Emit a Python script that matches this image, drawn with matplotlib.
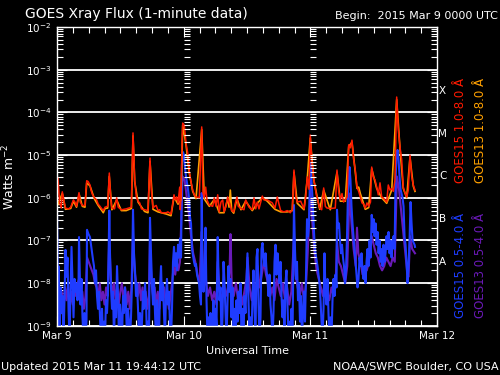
import numpy as np
import matplotlib
matplotlib.use("Agg")
import matplotlib.pyplot as plt
import matplotlib.transforms as mtransforms
from matplotlib.ticker import FixedLocator, LogFormatterSciNotation, NullFormatter

# (hours since 2015 Mar 9 00:00 UTC, log10 flux in W m^-2)
goes15_long = [
    (0.0, -6.1), (0.1, -5.8), (0.19, -5.54), (0.5, -6.12), (0.8, -6.24), (1.0, -5.86), (1.3, -6.05),
    (1.6, -6.24), (2.2, -6.26), (2.6, -6.22), (3.1, -6.05), (3.4, -6.1), (3.7, -6.2), (4.17, -5.88),
    (4.4, -6.1), (4.8, -6.18), (5.3, -6.18), (5.63, -5.6), (5.9, -5.62), (6.25, -5.7), (6.44, -5.82),
    (6.7, -5.92), (7.1, -6.0), (7.5, -6.05), (7.8, -6.15), (8.15, -6.2), (8.5, -6.26), (8.77, -6.3),
    (9.1, -6.22), (9.6, -6.2), (9.91, -5.42), (10.2, -6.05), (10.4, -6.24), (10.9, -6.26), (11.31, -6.0),
    (11.6, -6.22), (12.2, -6.28), (13.1, -6.26), (14.08, -6.22), (14.4, -4.48), (14.72, -5.58),
    (15.03, -5.98), (15.35, -6.08), (15.67, -6.12), (16.0, -6.26), (16.6, -6.28), (17.24, -6.3),
    (17.62, -5.07), (17.87, -5.82), (18.19, -6.24), (18.5, -6.2), (18.8, -6.18), (19.14, -6.3),
    (19.46, -6.28), (19.76, -6.35), (20.7, -6.35), (21.0, -6.33), (21.6, -6.38), (22.17, -5.93),
    (22.41, -6.05), (22.68, -5.98), (22.93, -6.12), (23.25, -5.75), (23.36, -6.28), (23.49, -6.0),
    (23.7, -4.65), (23.82, -4.25), (24.12, -4.3), (24.44, -4.72), (24.76, -4.95), (25.07, -5.39),
    (25.39, -5.63), (25.71, -5.82), (26.01, -5.93), (26.34, -5.98), (26.96, -6.0), (27.42, -4.34),
    (27.66, -5.89), (27.91, -6.0), (28.17, -5.75), (28.42, -6.05), (28.86, -6.17), (29.5, -6.2),
    (29.8, -6.0), (30.13, -6.2), (30.45, -5.93), (30.75, -6.33), (31.07, -6.1), (31.4, -6.05),
    (31.64, -6.33), (32.02, -6.2), (32.34, -5.98), (32.84, -6.2), (33.1, -6.3), (33.48, -6.33),
    (33.73, -6.15), (34.1, -5.98), (34.35, -6.2), (34.86, -6.25), (35.43, -6.28), (35.75, -6.05),
    (36.38, -6.22), (37.0, -6.28), (37.33, -6.0), (37.65, -6.26), (37.95, -6.1), (38.27, -6.26),
    (38.9, -5.96), (39.22, -6.05), (39.85, -6.05), (40.5, -6.1), (40.79, -6.12), (41.3, -6.24),
    (41.74, -5.98), (42.06, -6.15), (42.38, -6.3), (43.01, -6.33), (43.63, -6.3), (44.2, -6.35),
    (44.58, -6.28), (44.9, -5.35), (45.23, -5.98), (45.53, -6.1), (46.17, -6.08), (46.8, -6.26),
    (47.12, -6.0), (47.42, -5.51), (47.75, -5.8), (47.99, -4.53), (48.31, -5.18), (48.64, -5.54),
    (49.13, -5.93), (49.77, -6.24), (50.15, -6.28), (50.53, -5.77), (50.84, -6.2), (51.16, -6.24),
    (51.78, -6.25), (52.73, -6.24), (53.05, -5.35), (53.37, -5.85), (53.68, -6.05), (54.0, -5.9),
    (54.3, -6.1), (54.62, -6.05), (54.95, -5.98), (55.27, -4.76), (55.57, -4.83), (55.89, -4.65),
    (56.21, -5.11), (56.52, -5.35), (56.84, -5.75), (57.16, -5.85), (57.47, -5.98), (57.79, -6.12),
    (58.1, -6.15), (58.41, -6.24), (58.74, -6.12), (59.06, -6.2), (59.4, -6.1), (59.63, -5.28),
    (59.93, -5.51), (60.25, -5.58), (60.57, -5.75), (60.88, -5.93), (61.2, -5.65), (61.52, -5.98),
    (61.82, -6.0), (62.47, -6.1), (62.77, -5.7), (63.09, -5.82), (63.42, -5.78), (63.72, -5.85),
    (64.04, -5.58), (64.36, -3.64), (64.67, -4.41), (64.99, -4.81), (65.31, -5.11), (65.61, -5.75),
    (65.94, -5.89), (66.26, -5.98), (66.56, -5.82), (66.88, -5.0), (67.21, -5.51), (67.51, -5.7),
    (67.83, -5.82),
]

goes13_long = [
    (0.0, -6.2), (1.0, -5.9), (1.6, -6.27), (2.6, -6.25), (3.1, -6.08), (3.7, -6.22), (4.2, -5.92),
    (4.8, -6.2), (5.3, -6.22), (5.63, -5.65), (6.25, -5.72), (7.1, -6.03), (7.8, -6.18), (8.5, -6.3),
    (8.77, -6.35), (9.1, -6.25), (9.6, -6.24), (9.9, -5.5), (10.4, -6.28), (11.3, -6.05), (12.2, -6.3),
    (13.1, -6.3), (14.1, -6.25), (14.4, -4.55), (14.72, -5.62), (15.35, -6.1), (16.6, -6.32),
    (17.24, -6.35), (17.62, -5.15), (18.19, -6.27), (19.14, -6.33), (20.7, -6.38), (21.6, -6.42),
    (22.17, -5.98), (22.93, -6.15), (23.49, -6.05), (23.82, -4.3), (24.44, -4.75), (25.07, -5.42),
    (25.71, -5.85), (26.34, -6.02), (27.42, -4.4), (27.91, -6.03), (28.86, -6.2), (29.8, -6.04),
    (30.75, -6.35), (31.64, -6.35), (32.34, -6.02), (32.6, -6.22), (32.84, -5.82), (33.1, -6.3),
    (33.48, -6.36), (34.1, -6.02), (34.86, -6.28), (35.75, -6.08), (37.0, -6.3), (37.95, -6.13),
    (38.9, -6.0), (39.85, -6.08), (41.3, -6.27), (42.38, -6.33), (43.63, -6.33), (44.58, -6.3),
    (44.9, -5.4), (45.53, -6.13), (46.8, -6.28), (47.42, -5.55), (47.99, -4.6), (48.64, -5.58),
    (49.77, -6.27), (50.53, -5.82), (51.78, -6.28), (53.05, -5.4), (53.68, -6.08), (54.62, -6.08),
    (55.27, -4.8), (55.89, -4.7), (56.52, -5.4), (56.84, -5.78), (57.16, -5.75), (57.47, -5.9),
    (57.79, -6.02), (58.41, -6.27), (59.06, -6.23), (59.63, -5.32), (60.57, -5.78), (61.52, -6.0),
    (62.47, -6.13), (63.42, -5.82), (64.36, -3.7), (64.99, -4.85), (65.61, -5.78), (66.26, -6.0),
    (66.88, -5.05), (67.51, -5.73), (67.83, -5.85),
]

goes15_short = [
    (0.0, -6.33), (0.1, -7.2), (0.19, -8.5), (0.28, -7.6), (0.47, -9.3), (0.66, -8.1), (0.85, -8.7),
    (1.04, -8.3), (1.23, -9.3), (1.42, -8.4), (1.61, -7.22), (1.8, -7.85), (1.99, -7.4), (2.18, -8.6),
    (2.37, -9.3), (2.56, -8.2), (2.75, -7.15), (2.94, -8.0), (3.13, -8.8), (3.32, -7.9), (3.5, -8.2),
    (3.69, -8.0), (3.88, -8.4), (4.07, -8.1), (4.17, -6.92), (4.32, -7.8), (4.45, -8.5), (4.64, -7.9),
    (4.83, -8.8), (5.02, -9.3), (5.21, -8.7), (5.4, -9.3), (5.59, -8.9), (5.68, -6.75), (5.97, -6.85),
    (6.25, -6.92), (6.44, -7.1), (6.63, -7.3), (6.82, -7.45), (7.01, -7.6), (7.2, -8.0), (7.39, -7.7),
    (7.58, -8.3), (7.77, -8.6), (7.96, -8.2), (8.15, -8.8), (8.34, -9.3), (8.53, -8.6), (8.72, -9.3),
    (8.91, -8.9), (9.09, -9.3), (9.28, -8.4), (9.47, -8.7), (9.66, -8.2), (9.91, -6.3), (10.04, -7.3),
    (10.23, -8.1), (10.42, -8.6), (10.61, -8.2), (10.8, -9.3), (10.99, -8.4), (11.18, -8.8),
    (11.37, -7.6), (11.56, -8.3), (11.75, -9.3), (11.94, -8.5), (12.13, -8.9), (12.32, -9.3),
    (12.51, -8.3), (12.69, -8.7), (12.88, -8.1), (13.07, -8.5), (13.26, -9.3), (13.45, -8.6),
    (13.64, -8.9), (13.83, -9.3), (14.02, -8.8), (14.21, -8.0), (14.4, -6.28), (14.59, -7.3),
    (14.78, -7.7), (14.97, -8.3), (15.16, -8.0), (15.35, -8.6), (15.54, -9.3), (15.73, -8.7),
    (15.92, -9.3), (16.11, -8.9), (16.29, -8.2), (16.48, -8.6), (16.67, -8.0), (16.86, -8.4),
    (17.05, -9.3), (17.24, -8.9), (17.43, -9.3), (17.62, -6.47), (17.81, -7.3), (18.0, -8.0),
    (18.19, -8.5), (18.38, -7.9), (18.57, -8.7), (18.76, -9.3), (18.95, -8.4), (19.14, -8.8),
    (19.33, -9.3), (19.52, -8.1), (19.71, -7.6), (19.89, -8.4), (20.08, -8.0), (20.27, -8.7),
    (20.46, -9.3), (20.65, -8.3), (20.84, -7.9), (21.03, -8.5), (21.22, -8.2), (21.41, -9.0),
    (21.6, -9.3), (21.79, -8.6), (21.98, -7.5), (22.17, -7.15), (22.36, -7.6), (22.55, -7.3),
    (22.74, -7.7), (22.93, -7.1), (23.12, -7.4), (23.31, -6.95), (23.5, -7.4), (23.68, -5.2),
    (23.87, -4.93), (24.06, -5.0), (24.25, -5.3), (24.44, -5.5), (24.63, -5.65), (24.82, -5.8),
    (25.01, -6.0), (25.2, -6.45), (25.39, -6.6), (25.58, -7.2), (25.77, -7.35), (25.96, -7.5),
    (26.15, -7.6), (26.34, -7.55), (26.53, -7.8), (26.72, -7.9), (26.91, -8.0), (27.09, -8.3),
    (27.28, -8.5), (27.42, -5.89), (27.57, -7.6), (27.76, -8.2), (27.95, -7.8), (28.14, -6.7),
    (28.33, -8.4), (28.52, -9.3), (28.71, -8.8), (28.9, -9.3), (29.08, -8.7), (29.27, -9.3),
    (29.46, -8.9), (29.65, -8.4), (29.84, -9.3), (30.03, -8.6), (30.22, -9.0), (30.45, -6.92),
    (30.6, -7.8), (30.79, -8.4), (30.98, -8.1), (31.17, -9.3), (31.36, -8.8), (31.55, -7.5),
    (31.74, -8.0), (31.93, -8.7), (32.12, -9.3), (32.3, -8.5), (32.49, -7.6), (32.68, -8.2),
    (32.87, -7.9), (33.06, -8.8), (33.25, -8.1), (33.44, -9.3), (33.63, -8.6), (33.82, -9.3),
    (34.01, -8.4), (34.2, -8.9), (34.39, -8.2), (34.58, -8.7), (34.77, -8.0), (34.96, -9.3),
    (35.15, -8.6), (35.34, -9.3), (35.52, -8.3), (35.71, -8.7), (35.9, -8.0), (36.09, -7.3),
    (36.28, -8.4), (36.47, -9.3), (36.66, -8.8), (36.85, -9.3), (37.04, -8.3), (37.23, -7.7),
    (37.42, -8.6), (37.61, -9.3), (37.8, -7.4), (37.99, -7.2), (38.18, -8.5), (38.37, -9.3),
    (38.56, -8.8), (38.75, -7.2), (38.94, -7.06), (39.13, -7.4), (39.32, -7.6), (39.51, -7.3),
    (39.7, -7.7), (39.88, -7.9), (40.07, -8.3), (40.26, -7.8), (40.45, -8.5), (40.64, -8.8),
    (40.83, -9.3), (41.02, -8.7), (41.21, -7.5), (41.4, -7.1), (41.59, -7.8), (41.78, -7.3),
    (41.97, -7.6), (42.16, -8.0), (42.35, -7.5), (42.54, -8.3), (42.73, -8.8), (42.92, -8.4),
    (43.1, -9.3), (43.29, -8.0), (43.48, -7.7), (43.67, -8.5), (43.86, -9.3), (44.05, -8.9),
    (44.24, -9.3), (44.43, -8.6), (44.62, -9.3), (44.9, -6.17), (45.09, -7.2), (45.28, -7.9),
    (45.47, -7.5), (45.66, -8.4), (45.85, -8.0), (46.04, -8.9), (46.23, -8.3), (46.42, -9.3),
    (46.61, -8.7), (46.8, -8.2), (46.99, -8.9), (47.18, -7.8), (47.37, -6.5), (47.56, -6.9),
    (47.75, -6.6), (47.99, -5.18), (48.22, -5.6), (48.41, -6.0), (48.6, -6.55), (48.79, -7.05),
    (48.98, -7.3), (49.17, -7.45), (49.36, -7.6), (49.55, -7.8), (49.74, -8.0), (49.93, -8.4),
    (50.12, -8.9), (50.31, -9.3), (50.5, -8.6), (50.68, -7.3), (50.87, -8.2), (51.06, -8.5),
    (51.25, -7.9), (51.44, -8.7), (51.63, -9.3), (51.82, -8.8), (52.01, -9.3), (52.2, -8.4),
    (52.39, -7.9), (52.58, -8.3), (52.77, -7.8), (52.96, -8.1), (53.05, -6.28), (53.24, -6.7),
    (53.43, -6.6), (53.62, -7.0), (53.81, -7.3), (54.0, -7.1), (54.19, -7.4), (54.38, -7.6),
    (54.57, -8.0), (54.76, -7.7), (54.95, -6.9), (55.13, -5.9), (55.42, -5.28), (55.61, -5.6),
    (55.8, -6.2), (55.99, -6.6), (56.18, -6.9), (56.37, -7.2), (56.56, -7.5), (56.75, -7.8),
    (56.94, -8.1), (57.13, -7.9), (57.32, -7.4), (57.51, -7.6), (57.7, -7.3), (57.89, -7.7),
    (58.08, -7.9), (58.27, -7.6), (58.46, -8.0), (58.65, -7.5), (58.84, -7.2), (59.03, -7.6),
    (59.22, -7.0), (59.41, -7.4), (59.63, -6.4), (59.79, -6.8), (59.98, -6.5), (60.17, -6.9),
    (60.36, -6.6), (60.55, -7.1), (60.74, -6.8), (60.93, -7.3), (61.12, -7.0), (61.31, -7.5),
    (61.5, -7.2), (61.68, -7.6), (61.87, -7.1), (62.06, -7.5), (62.25, -7.3), (62.44, -6.9),
    (62.63, -7.2), (62.82, -6.8), (63.01, -7.3), (63.2, -7.0), (63.39, -7.4), (63.58, -7.1),
    (63.77, -6.9), (63.96, -7.2), (64.15, -5.6), (64.33, -5.0), (64.52, -4.88), (64.71, -5.1),
    (64.9, -5.5), (65.09, -5.8), (65.28, -5.9), (65.47, -6.0), (65.66, -6.2), (65.85, -6.9),
    (66.04, -7.1), (66.23, -7.5), (66.42, -8.0), (66.61, -7.6), (66.8, -7.0), (66.99, -6.1),
    (67.18, -6.6), (67.37, -7.0), (67.56, -7.05), (67.75, -7.1), (67.83, -7.15),
]

goes13_short = [
    (0.0, -7.5), (0.3, -8.3), (0.6, -8.6), (0.9, -8.2), (1.2, -8.7), (1.5, -8.1), (1.8, -8.4),
    (2.1, -8.0), (2.4, -8.6), (2.7, -8.2), (3.0, -8.5), (3.3, -7.95), (3.6, -8.3), (3.9, -8.0),
    (4.2, -7.9), (4.5, -8.4), (4.8, -8.2), (5.1, -8.6), (5.4, -8.3), (5.7, -7.4), (6.0, -7.5),
    (6.3, -7.6), (6.6, -7.7), (6.9, -7.8), (7.2, -8.0), (7.5, -8.1), (7.8, -8.3), (8.1, -8.0),
    (8.4, -8.4), (8.7, -8.2), (9.0, -8.5), (9.3, -8.1), (9.6, -8.3), (9.9, -7.0), (10.2, -7.9),
    (10.5, -8.3), (10.8, -8.0), (11.1, -8.4), (11.4, -8.1), (11.7, -8.5), (12.0, -8.2), (12.3, -8.0),
    (12.6, -8.4), (12.9, -8.1), (13.2, -8.5), (13.5, -8.2), (13.8, -8.6), (14.1, -8.1), (14.4, -6.9),
    (14.7, -7.7), (15.0, -8.0), (15.3, -8.3), (15.6, -8.0), (15.9, -8.4), (16.2, -8.1), (16.5, -8.5),
    (16.8, -8.2), (17.1, -8.6), (17.4, -8.3), (17.62, -7.0), (17.9, -8.0), (18.2, -8.3), (18.5, -8.1),
    (18.8, -8.5), (19.1, -8.2), (19.4, -8.6), (19.7, -8.0), (20.0, -8.4), (20.3, -8.1), (20.6, -8.5),
    (20.9, -8.2), (21.2, -8.6), (21.5, -8.3), (21.8, -8.0), (22.1, -7.6), (22.4, -7.8), (22.7, -7.5),
    (23.0, -7.7), (23.3, -7.5), (23.8, -5.5), (24.2, -5.6), (24.6, -6.0), (25.0, -6.4), (25.4, -6.9),
    (25.8, -7.3), (26.2, -7.5), (26.6, -7.8), (27.0, -8.0), (27.4, -6.8), (27.8, -8.1), (28.2, -7.9),
    (28.6, -8.3), (29.0, -8.1), (29.4, -8.4), (29.8, -8.2), (30.2, -8.5), (30.45, -7.5), (30.8, -8.2),
    (31.2, -8.4), (31.6, -8.0), (32.0, -8.3), (32.4, -8.1), (32.7, -7.7), (32.87, -6.85), (33.1, -8.0),
    (33.5, -8.3), (33.9, -8.0), (34.3, -8.4), (34.7, -8.1), (35.1, -8.5), (35.5, -8.2), (35.9, -7.9),
    (36.1, -7.4), (36.5, -8.1), (36.9, -8.4), (37.3, -8.0), (37.7, -8.2), (38.0, -7.6), (38.4, -8.1),
    (38.8, -7.8), (39.2, -7.5), (39.6, -7.8), (40.0, -8.0), (40.4, -8.3), (40.8, -8.1), (41.2, -8.4),
    (41.6, -7.9), (42.0, -8.1), (42.4, -8.3), (42.8, -8.0), (43.2, -8.4), (43.6, -8.1), (44.0, -8.5),
    (44.4, -8.2), (44.9, -6.9), (45.2, -7.8), (45.6, -8.1), (46.0, -8.3), (46.4, -8.0), (46.8, -8.4),
    (47.2, -8.0), (47.5, -7.3), (48.0, -5.8), (48.4, -6.6), (48.8, -7.3), (49.2, -7.7), (49.6, -7.9),
    (50.0, -8.1), (50.4, -8.3), (50.8, -7.9), (51.2, -8.2), (51.6, -8.4), (52.0, -8.1), (52.4, -8.3),
    (52.8, -8.0), (53.05, -7.0), (53.4, -7.5), (53.8, -7.6), (54.2, -7.8), (54.6, -8.0), (55.0, -7.6),
    (55.42, -5.9), (55.8, -6.6), (56.2, -7.2), (56.6, -7.6), (56.84, -6.7), (57.1, -7.3), (57.5, -7.5),
    (57.9, -7.8), (58.3, -7.6), (58.7, -7.7), (59.1, -7.5), (59.63, -6.9), (60.0, -7.1), (60.4, -7.3),
    (60.8, -7.4), (61.2, -7.6), (61.6, -7.7), (62.0, -7.6), (62.4, -7.4), (62.8, -7.5), (63.2, -7.6),
    (63.6, -7.4), (64.0, -7.5), (64.4, -5.5), (64.8, -5.8), (65.2, -6.3), (65.6, -6.8), (66.0, -7.3),
    (66.4, -7.8), (66.6, -7.85), (66.9, -6.9), (67.3, -7.2), (67.83, -7.3),
]

day_ticks = [0, 24, 48, 72]
day_labels = ["Mar 9", "Mar 10", "Mar 11", "Mar 12"]
decades = [-9, -8, -7, -6, -5, -4, -3, -2]
flare_classes = ["X", "M", "C", "B", "A"]
class_levels = [-3.5, -4.5, -5.5, -6.5, -7.5]

RED = "#ff1a00"
ORANGE = "#ffa000"
BLUE = "#1f3cff"
PURPLE = "#6a1ab8"

fig = plt.figure(figsize=(5, 3.75), dpi=100, facecolor="black")
ax = fig.add_axes([0.114, 0.131, 0.76, 0.797])
ax.set_facecolor("black")

for series, color, lw in [(goes13_short, PURPLE, 1.5), (goes15_short, BLUE, 1.5),
                          (goes13_long, ORANGE, 1.2), (goes15_long, RED, 1.1)]:
    h, lg = np.array(series).T
    ax.plot(h, 10.0 ** lg, color=color, lw=lw)

ax.set_yscale("log")
ax.set_ylim(1e-9, 1e-2)
ax.set_xlim(0, 72)

major_y = [10.0 ** k for k in decades]
minor_y = [m * 10.0 ** k for k in decades[:-1] for m in range(2, 10)]
ax.yaxis.set_major_locator(FixedLocator(major_y))
ax.yaxis.set_major_formatter(LogFormatterSciNotation())
ax.yaxis.set_minor_locator(FixedLocator(minor_y))
ax.yaxis.set_minor_formatter(NullFormatter())
ax.xaxis.set_major_locator(FixedLocator(day_ticks))
ax.xaxis.set_minor_locator(FixedLocator(np.arange(0, 73, 3)))
ax.set_xticklabels(day_labels)

ax.grid(axis="y", which="major", color="white", lw=1.3)
ax.tick_params(which="both", direction="in", colors="white", top=True, right=True,
               labelsize=7.5, width=0.8)
ax.tick_params(which="major", length=7, pad=4)
ax.tick_params(which="minor", length=4)
for sp in ax.spines.values():
    sp.set_color("white")
    sp.set_linewidth(1.0)

# day boundary markers: little ticks at each log tick
for d in day_ticks[1:3]:
    ax.plot([d] * len(major_y + minor_y), major_y + minor_y, ls="none", marker=1, ms=4,
            mew=0.8, color="white")

# flare class letters on the right
trans = mtransforms.blended_transform_factory(ax.transAxes, ax.transData)
for lab, lv in zip(flare_classes, class_levels):
    ax.text(1.015, 10.0 ** lv, lab, transform=trans, color="white", fontsize=7.5,
            ha="center", va="center")

ax.set_ylabel("Watts m$^{-2}$", color="white", fontsize=9, labelpad=6)
ax.set_xlabel("Universal Time", color="white", fontsize=8, labelpad=3)

fig.text(0.05, 0.963, "GOES Xray Flux (1-minute data)", color="white", fontsize=10,
         ha="left", va="center")
fig.text(0.996, 0.957, "Begin:  2015 Mar 9 0000 UTC", color="white", fontsize=8,
         ha="right", va="center")
fig.text(0.002, 0.022, "Updated 2015 Mar 11 19:44:12 UTC", color="white", fontsize=8,
         ha="left", va="center")
fig.text(0.998, 0.022, "NOAA/SWPC Boulder, CO USA", color="white", fontsize=8,
         ha="right", va="center")

# vertical legend
legend = [("GOES15 1.0-8.0 \u00c5", RED, 0.922, 0.653),
          ("GOES13 1.0-8.0 \u00c5", ORANGE, 0.962, 0.653),
          ("GOES15 0.5-4.0 \u00c5", BLUE, 0.922, 0.291),
          ("GOES13 0.5-4.0 \u00c5", PURPLE, 0.962, 0.291)]
for txt, col, x, y in legend:
    fig.text(x, y, txt, color=col, fontsize=8.5, rotation=90, ha="center", va="center")

fig.savefig("out.png", dpi=100, facecolor="black")
